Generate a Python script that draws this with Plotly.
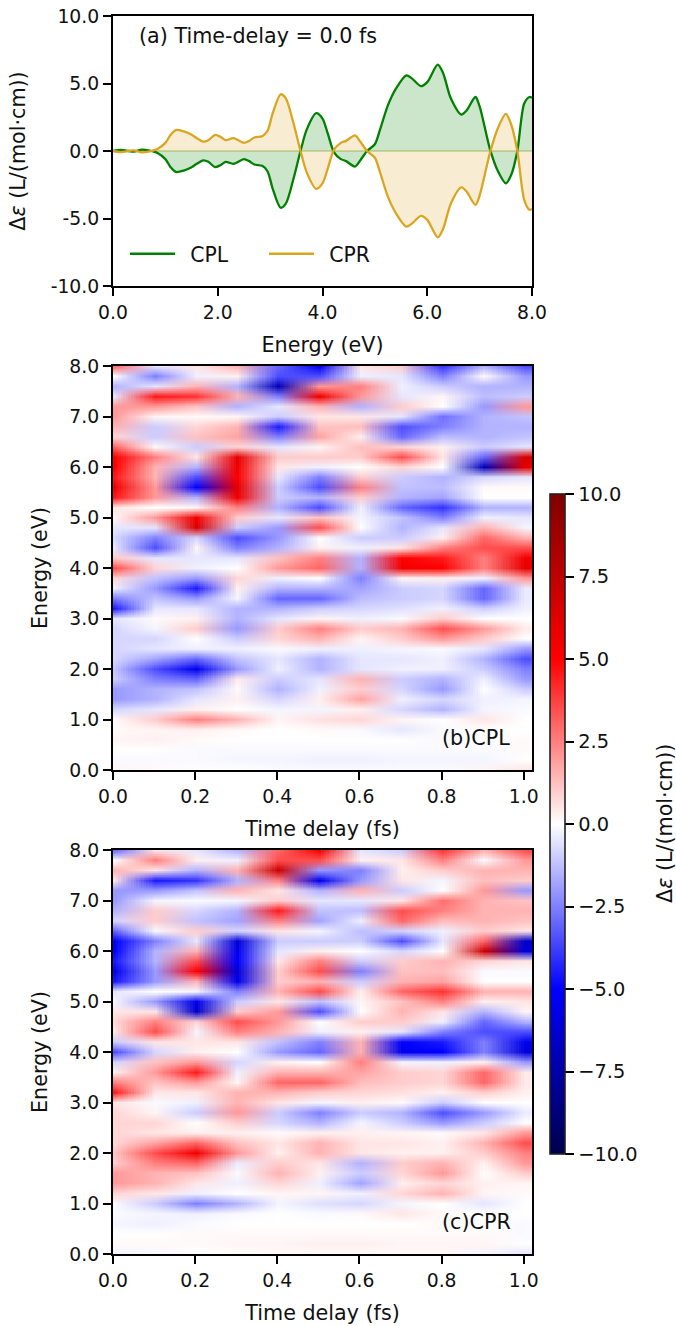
import plotly.graph_objects as go

energy_ev = [0,0.15,0.3,0.4,0.55,0.7,0.85,1.0,1.1,1.2,1.35,1.5,1.6,1.72,1.82,1.95,2.05,2.15,2.3,2.5,2.6,2.7,2.85,2.95,3.05,3.2,3.3,3.45,3.58,3.7,3.88,4.0,4.1,4.22,4.35,4.45,4.62,4.72,4.85,5.0,5.1,5.25,5.4,5.6,5.7,5.88,6.0,6.2,6.3,6.45,6.65,6.75,6.92,7.0,7.2,7.35,7.5,7.6,7.72,7.85,7.95,8.0]
cpl_spectrum = [0,0.08,0,-0.05,0.1,0.02,-0.15,-0.6,-1.2,-1.55,-1.45,-1.2,-0.95,-0.7,-0.8,-1.2,-1.05,-0.8,-0.95,-0.6,-0.75,-1.0,-1.1,-1.5,-2.8,-4.2,-3.9,-2,0,1.6,2.8,2.4,1.3,-0.1,-0.6,-0.75,-1.15,-0.7,0,0.5,1.6,3.4,4.6,5.6,5.4,4.8,5.1,6.4,5.8,3.9,2.7,3.0,4.0,3.3,0.1,-1.5,-2.4,-1.8,0,3.5,4.0,3.95]
cpr_spectrum = [0,-0.08,0,0.05,-0.1,-0.02,0.15,0.6,1.2,1.55,1.45,1.2,0.95,0.7,0.8,1.2,1.05,0.8,0.95,0.6,0.75,1.0,1.1,1.5,2.8,4.2,3.9,2,0,-1.6,-2.8,-2.4,-1.3,0.1,0.6,0.75,1.15,0.7,0,-0.5,-1.6,-3.4,-4.6,-5.6,-5.4,-4.8,-5.1,-6.4,-5.8,-3.9,-2.7,-3.0,-4.0,-3.3,-0.1,1.7,2.75,2.0,0,-3.6,-4.35,-4.3]
baseline = [0 for v in energy_ev]

time_delay = [0.0,0.1,0.2,0.3,0.4,0.5,0.6,0.7,0.8,0.9,1.0]
energy_grid = [8.0,7.8,7.6,7.4,7.2,7.0,6.8,6.6,6.4,6.2,6.0,5.8,5.6,5.4,5.2,5.0,4.8,4.6,4.4,4.2,4.0,3.8,3.6,3.4,3.2,3.0,2.8,2.6,2.4,2.2,2.0,1.8,1.6,1.4,1.2,1.0,0.8,0.6,0.4,0.2,0.0]
cpl_map = [
 [3,-0.5,0.5,1.5,-3,-5.5,0.5,1,-4,-1.5,-3.5],
 [0,-2.5,-0.3,0.3,-3.5,-3.5,-0.3,-0.5,-2.5,0.1,-2],
 [-1.5,-0.5,1.5,-1.5,-7,2,2.5,-0.3,-1,-1.5,-1.5],
 [-0.5,4.5,4,1.5,-2.5,5.5,2,-0.5,0.2,-1.3,-1],
 [2,2,1.2,-1.5,-0.5,1.5,-1.5,1,0,-2,2],
 [2,0.2,0.1,0.2,-1,0.5,0.5,-0.5,-2.8,-1.5,-1.2],
 [1.5,-1,0.8,1.5,-4.5,1.2,1.3,-3.5,-2.5,-1.5,-1.5],
 [0.8,-1,1.2,1.8,-2.5,1.8,0.3,-3,-1.3,-1.5,-1.2],
 [3,0.1,-1,0.8,-0.5,0.2,1.3,0.8,0.3,-1,-0.5],
 [5,2.5,0.5,6,1,1,1,3.5,0.5,-3,6.5],
 [5,1.5,-1.5,5.5,0.5,-0.3,0,0.8,0,-7,6],
 [4.5,1.5,-3.5,5,-0.5,-2.5,1,-1,-1.5,-0.8,-0.5],
 [5.5,2,-5,6,-1,-3.5,2.5,-1.2,-1.3,0.1,0.1],
 [4.5,2,-1.5,5.5,-1,-1.5,1,-1.5,-1.8,0,0],
 [0.5,0,0.2,2.5,-1.5,-3.5,-0.3,-3,-4,-1.5,-1.5],
 [0.2,2,5.5,1,-0.5,1.2,-0.2,-1.2,-2.5,-0.3,-0.5],
 [-0.5,-0.5,6.5,-1,-2,3.5,0,-1.5,-0.5,1.5,-0.2],
 [-0.8,-2.5,-0.8,-3.5,-2,0,-1,-1,0.3,3,1.5],
 [-0.5,-3.5,0.2,-2.5,-1.5,0.3,-0.3,0.5,2.5,3.5,3.5],
 [1,-0.5,-0.5,-0.5,1.2,2.5,-1.5,5,4.5,2.5,5.5],
 [3.5,0.8,-0.3,0,2,3,-1.5,5.5,5,2.5,6],
 [0.8,-1.2,-2,0.8,-0.3,0,-2.5,0.2,0.3,-0.3,2],
 [-0.3,-2,-4.5,0.3,-1.5,-1.5,-1.8,-1,-0.8,-3,-0.4],
 [-2.5,-1.2,-2,-0.2,-3,-3,-1.3,-1,-0.8,-3,-0.4],
 [-4.5,-0.5,-0.5,-1.5,-1.5,-1,-0.8,-0.6,-0.3,-1,-0.3],
 [-0.5,0.1,0.3,-1.5,-0.5,0.2,-0.3,-0.1,1,0,0],
 [-0.8,-0.2,1,-2,1,2.5,1,1.5,3.5,2,0.4],
 [-0.8,-0.8,0,-1,0.8,1.5,0.2,1,2,1,0],
 [-0.8,-0.5,-0.3,-0.3,-0.1,-0.3,-0.3,-0.2,-0.1,-0.5,-2],
 [-0.8,-1.8,-3,-1.2,-0.5,-1.5,-0.5,-0.5,-0.3,-1.5,-3.5],
 [-1.2,-3.5,-5.5,-2,-0.3,-1.5,-0.5,-0.3,-0.3,-1,-2.5],
 [-1,-2.5,-3,0.4,-1,-0.5,1.5,-1,-1.5,-0.3,-2],
 [-2,-1.5,-1.2,0.1,-1.5,-0.3,1,-0.8,-2,0,-1],
 [-2,-1.5,-0.5,0.3,-0.8,0.3,1.8,-0.3,-0.8,-0.3,-0.2],
 [-0.8,-0.5,0.3,0,-0.2,-0.2,0.3,-0.8,-1.5,-0.2,-0.1],
 [0.1,1,2.5,1.5,0.2,0.6,0.8,0.2,0,0.5,0],
 [0.1,0.2,0.3,0.1,0,0.1,-0.1,-0.5,-0.1,0,0],
 [0.2,0.3,0.1,0,0,0,0,0,-0.1,0,0.1],
 [0,0,-0.1,-0.1,-0.1,-0.1,-0.1,-0.1,-0.1,-0.1,0.1],
 [-0.1,-0.1,-0.1,-0.2,-0.2,-0.3,-0.3,-0.2,-0.2,-0.2,0],
 [0.2,0.1,0,0,-0.1,-0.1,-0.1,-0.1,-0.1,0.2,0.5],
]
cpr_map = [[-v for v in row] for row in cpl_map]

spectrum_ticks = [-10,-5,0,5,10]
spectrum_labels = ["-10.0","-5.0","0.0","5.0","10.0"]
energy_ticks = [0,2,4,6,8]
grid_energy_ticks = [0,1,2,3,4,5,6,7,8]
time_ticks = [0,0.2,0.4,0.6,0.8,1.0]
cbar_ticks = [-10,-7.5,-5,-2.5,0,2.5,5,7.5,10]
GREEN, GOLD = "#008000", "#DAA520"
W, H = 676, 1326
L, R, T, B = 113, 532, 16, 1254
INK = "#111111"
TICK = dict(family="DejaVu Sans", size=18.8, color=INK)
TITLE = dict(family="DejaVu Sans", size=20.7, color=INK)
ANNO = dict(family="DejaVu Sans", size=20.7, color=INK)

def yd(t,b): return [(B-b)/(B-T),(B-t)/(B-T)]

fig = go.Figure()
fig.add_trace(go.Scatter(x=energy_ev,y=cpl_spectrum,mode="none",fill="tozeroy",fillcolor="rgba(0,128,0,0.2)",line=dict(shape="spline",smoothing=0.8),showlegend=False,xaxis="x",yaxis="y"))
fig.add_trace(go.Scatter(x=energy_ev,y=cpr_spectrum,mode="none",fill="tozeroy",fillcolor="rgba(218,165,32,0.2)",line=dict(shape="spline",smoothing=0.8),showlegend=False,xaxis="x",yaxis="y"))
fig.add_trace(go.Scatter(x=energy_ev,y=baseline,mode="lines",line=dict(color="rgba(140,160,40,0.35)",width=2.2),showlegend=False,xaxis="x",yaxis="y"))
fig.add_trace(go.Scatter(x=energy_ev,y=cpl_spectrum,mode="lines",name="\u2002CPL",line=dict(color=GREEN,width=2.3,shape="spline",smoothing=0.8),xaxis="x",yaxis="y"))
fig.add_trace(go.Scatter(x=energy_ev,y=cpr_spectrum,mode="lines",name="\u2002CPR",line=dict(color=GOLD,width=2.3,shape="spline",smoothing=0.8),xaxis="x",yaxis="y"))
for z,xa,ya in ((cpl_map,"x2","y2"),(cpr_map,"x3","y3")):
    fig.add_trace(go.Heatmap(x=time_delay,y=energy_grid[::-1],z=z[::-1],coloraxis="coloraxis",zsmooth="fast",xaxis=xa,yaxis=ya))

axis = dict(automargin=False,showgrid=False,zeroline=False,showline=True,mirror=True,linecolor="black",linewidth=2,ticks="outside",ticklen=8,tickwidth=1.6,tickcolor="black",tickfont=TICK,title_font=TITLE)
fig.update_layout(
    width=W,height=H,margin=dict(l=L,r=W-R,t=T,b=H-B,autoexpand=False),paper_bgcolor="white",plot_bgcolor="white",font=TICK,
    xaxis=dict(axis,anchor="y",range=[0,8],tickvals=energy_ticks,tickformat=".1f",title=dict(text="Energy (eV)",standoff=16)),
    yaxis=dict(axis,anchor="x",domain=yd(16,286),range=[-10,10],tickvals=spectrum_ticks,ticktext=spectrum_labels,title=dict(text="Δ<i>ε</i> (L/(mol·cm))",standoff=19)),
    xaxis2=dict(axis,anchor="y2",range=[0,1.02],tickvals=time_ticks,tickformat=".1f",title=dict(text="Time delay (fs)",standoff=16)),
    yaxis2=dict(axis,anchor="x2",domain=yd(366,770),range=[0,8],tickvals=grid_energy_ticks,tickformat=".1f",title=dict(text="Energy (eV)",standoff=16)),
    xaxis3=dict(axis,anchor="y3",range=[0,1.02],tickvals=time_ticks,tickformat=".1f",title=dict(text="Time delay (fs)",standoff=16)),
    yaxis3=dict(axis,anchor="x3",domain=yd(850,1254),range=[0,8],tickvals=grid_energy_ticks,tickformat=".1f",title=dict(text="Energy (eV)",standoff=16)),
    coloraxis=dict(cmin=-10,cmax=10,colorscale=[[0,"rgb(0,0,77)"],[0.25,"rgb(0,0,255)"],[0.5,"rgb(255,255,255)"],[0.75,"rgb(255,0,0)"],[1,"rgb(128,0,0)"]],
        colorbar=dict(x=(550-L)/(R-L),xanchor="left",xpad=0,y=(B-824)/(B-T),yanchor="middle",ypad=0,lenmode="pixels",len=660,thicknessmode="pixels",thickness=15,
            tickvals=cbar_ticks,tickformat=".1f",ticks="outside",ticklen=9,tickwidth=1.6,tickcolor="black",tickfont=dict(TICK,size=19.4),outlinecolor="#222222",outlinewidth=1.6)),
    legend=dict(orientation="h",x=(125-L)/(R-L),y=(B-274)/(B-T),xanchor="left",yanchor="bottom",bgcolor="rgba(0,0,0,0)",font=dict(TICK,size=20.4),itemwidth=45,entrywidth=79,entrywidthmode="pixels"),
    showlegend=True,
)
fig.add_annotation(text="(a) Time-delay = 0.0 fs",xref="x",yref="y",x=0.5,y=8.5,xanchor="left",yanchor="middle",showarrow=False,font=ANNO,xshift=-2)
fig.add_annotation(text="(b)CPL",xref="x2",yref="y2",x=0.8,y=0.63,xanchor="left",yanchor="middle",showarrow=False,font=ANNO,xshift=-2)
fig.add_annotation(text="(c)CPR",xref="x3",yref="y3",x=0.8,y=0.63,xanchor="left",yanchor="middle",showarrow=False,font=ANNO,xshift=-2)
fig.add_annotation(text="Δ<i>ε</i> (L/(mol·cm))",xref="paper",yref="paper",x=(665-L)/(R-L),y=(B-824)/(B-T),xanchor="center",yanchor="middle",textangle=-90,showarrow=False,font=TITLE)
fig.write_html("out.html",config=dict(displayModeBar=False),post_script="document.body.style.margin='0';")
